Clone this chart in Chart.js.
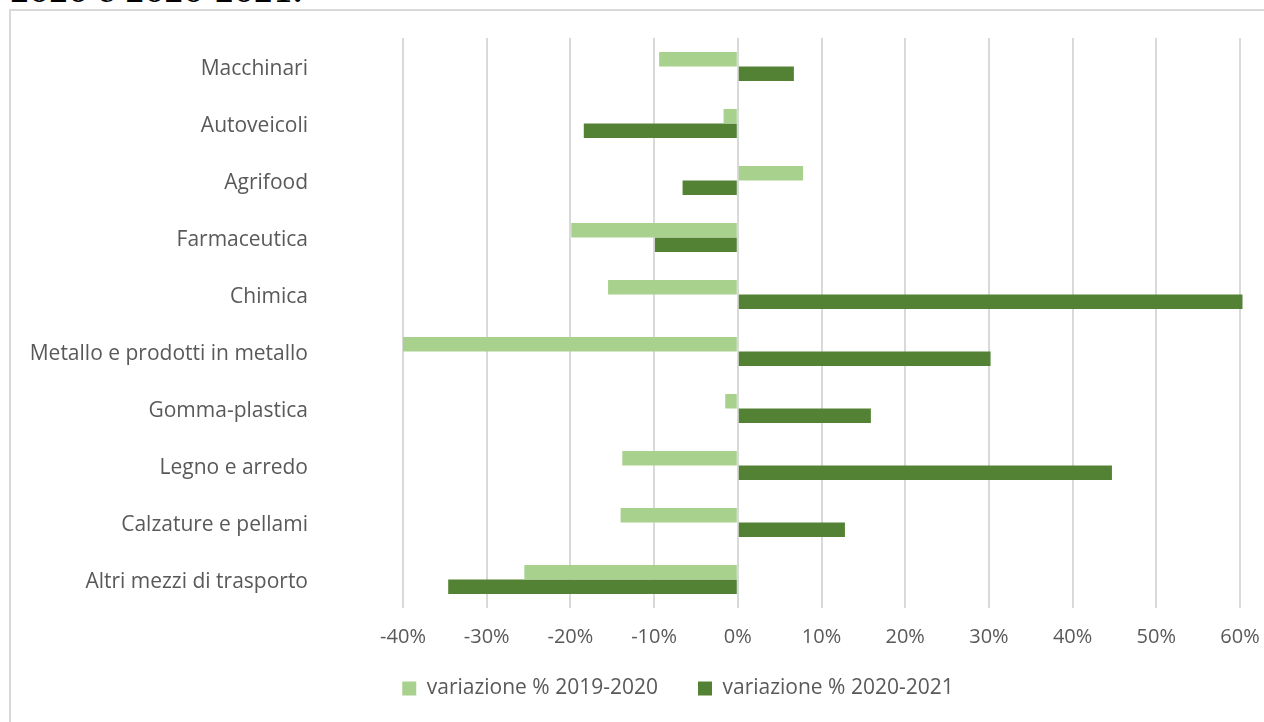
<!DOCTYPE html>
<html>
<head>
<meta charset="utf-8">
<script src="https://cdn.jsdelivr.net/npm/chart.js@4"></script>
<style>
  html, body { margin: 0; padding: 0; background: #fff; overflow: hidden; }
  #titolo {
    position: absolute; left: 10px; top: -24px;
    font-family: "DejaVu Serif", serif; font-weight: bold; font-size: 28px;
    color: #000; white-space: nowrap;
  }
  #cornice {
    position: absolute; left: 9px; top: 9px; width: 1280px; height: 740px;
    border: 2px solid #d9d9d9; box-sizing: border-box;
  }
  #wrap { position: absolute; left: 0; top: 0; width: 1264px; height: 722px; }
</style>
</head>
<body>
<div id="titolo">2020 e 2020-2021.</div>
<div id="cornice"></div>
<div id="wrap"><canvas id="chartCanvas"></canvas></div>
<script>
// settori (dall'alto in basso)
var categorie = [
  "Macchinari", "Autoveicoli", "Agrifood", "Farmaceutica", "Chimica",
  "Metallo e prodotti in metallo", "Gomma-plastica", "Legno e arredo",
  "Calzature e pellami", "Altri mezzi di trasporto"
]

// variazioni in %
var var2019_2020 = [-9.4, -1.7, 7.8, -19.9, -15.5, -40.0, -1.5, -13.8, -14.0, -25.5]
var var2020_2021 = [6.7, -18.4, -6.6, -9.9, 60.3, 30.2, 15.9, 44.7, 12.8, -34.6]

var nomiSerie = ["variazione % 2019-2020", "variazione % 2020-2021"]
var colori = ["#a9d18e", "#548235"]

var tickX = [-40, -30, -20, -10, 0, 10, 20, 30, 40, 50, 60]

var grigioTesto = "#595959"
var font = "'Open Sans', sans-serif"

// la legenda: altezza fissa e spostata verso destra come nell'originale
var legendaPlugin = {
  id: "legendaFissa",
  afterInit(chart) {
    var leg = chart.legend
    var fitOrig = leg.fit
    leg.fit = function () {
      fitOrig.call(this)
      this.height = 73
    }
  },
  afterLayout(chart) {
    var leg = chart.legend
    leg.left += 48
    leg.right += 48
    leg.top -= 11
    leg.bottom -= 11
  }
}

const ctx = document.getElementById("chartCanvas")

new Chart(ctx, {
  type: "bar",
  data: {
    labels: categorie,
    datasets: [
      { label: nomiSerie[0], data: var2019_2020, backgroundColor: colori[0], barPercentage: 1, categoryPercentage: 0.51, clip: false },
      { label: nomiSerie[1], data: var2020_2021, backgroundColor: colori[1], barPercentage: 1, categoryPercentage: 0.51, clip: false }
    ]
  },
  plugins: [legendaPlugin],
  options: {
    indexAxis: "y",
    responsive: true,
    maintainAspectRatio: false,
    animation: false,
    layout: { padding: { left: 20, right: 24, top: 38, bottom: 0 } },
    plugins: {
      tooltip: { enabled: false },
      legend: {
        position: "bottom",
        labels: {
          color: grigioTesto,
          font: { family: font, size: 21 },
          boxWidth: 14, boxHeight: 14,
          padding: 40
        }
      }
    },
    scales: {
      x: {
        min: -40, max: 60,
        afterBuildTicks: s => { s.ticks = tickX.map(v => ({ value: v })) },
        afterFit: s => {
          s.height = 41
          s.paddingLeft = 0
          s.paddingRight = 0
        },
        grid: { color: "#d9d9d9", lineWidth: 2, drawTicks: false },
        border: { display: false },
        ticks: {
          color: grigioTesto, padding: 17,
          font: { family: font, size: 20 },
          callback: v => v + "%"
        }
      },
      y: {
        afterFit: s => {
          s.width = 403 - 20
          s.paddingTop = 0
          s.paddingBottom = 0
        },
        grid: { display: false },
        border: { display: false },
        ticks: {
          color: grigioTesto, padding: 87, labelOffset: 3,
          font: { family: font, size: 21 }
        }
      }
    }
  }
})
</script>
</body>
</html>
